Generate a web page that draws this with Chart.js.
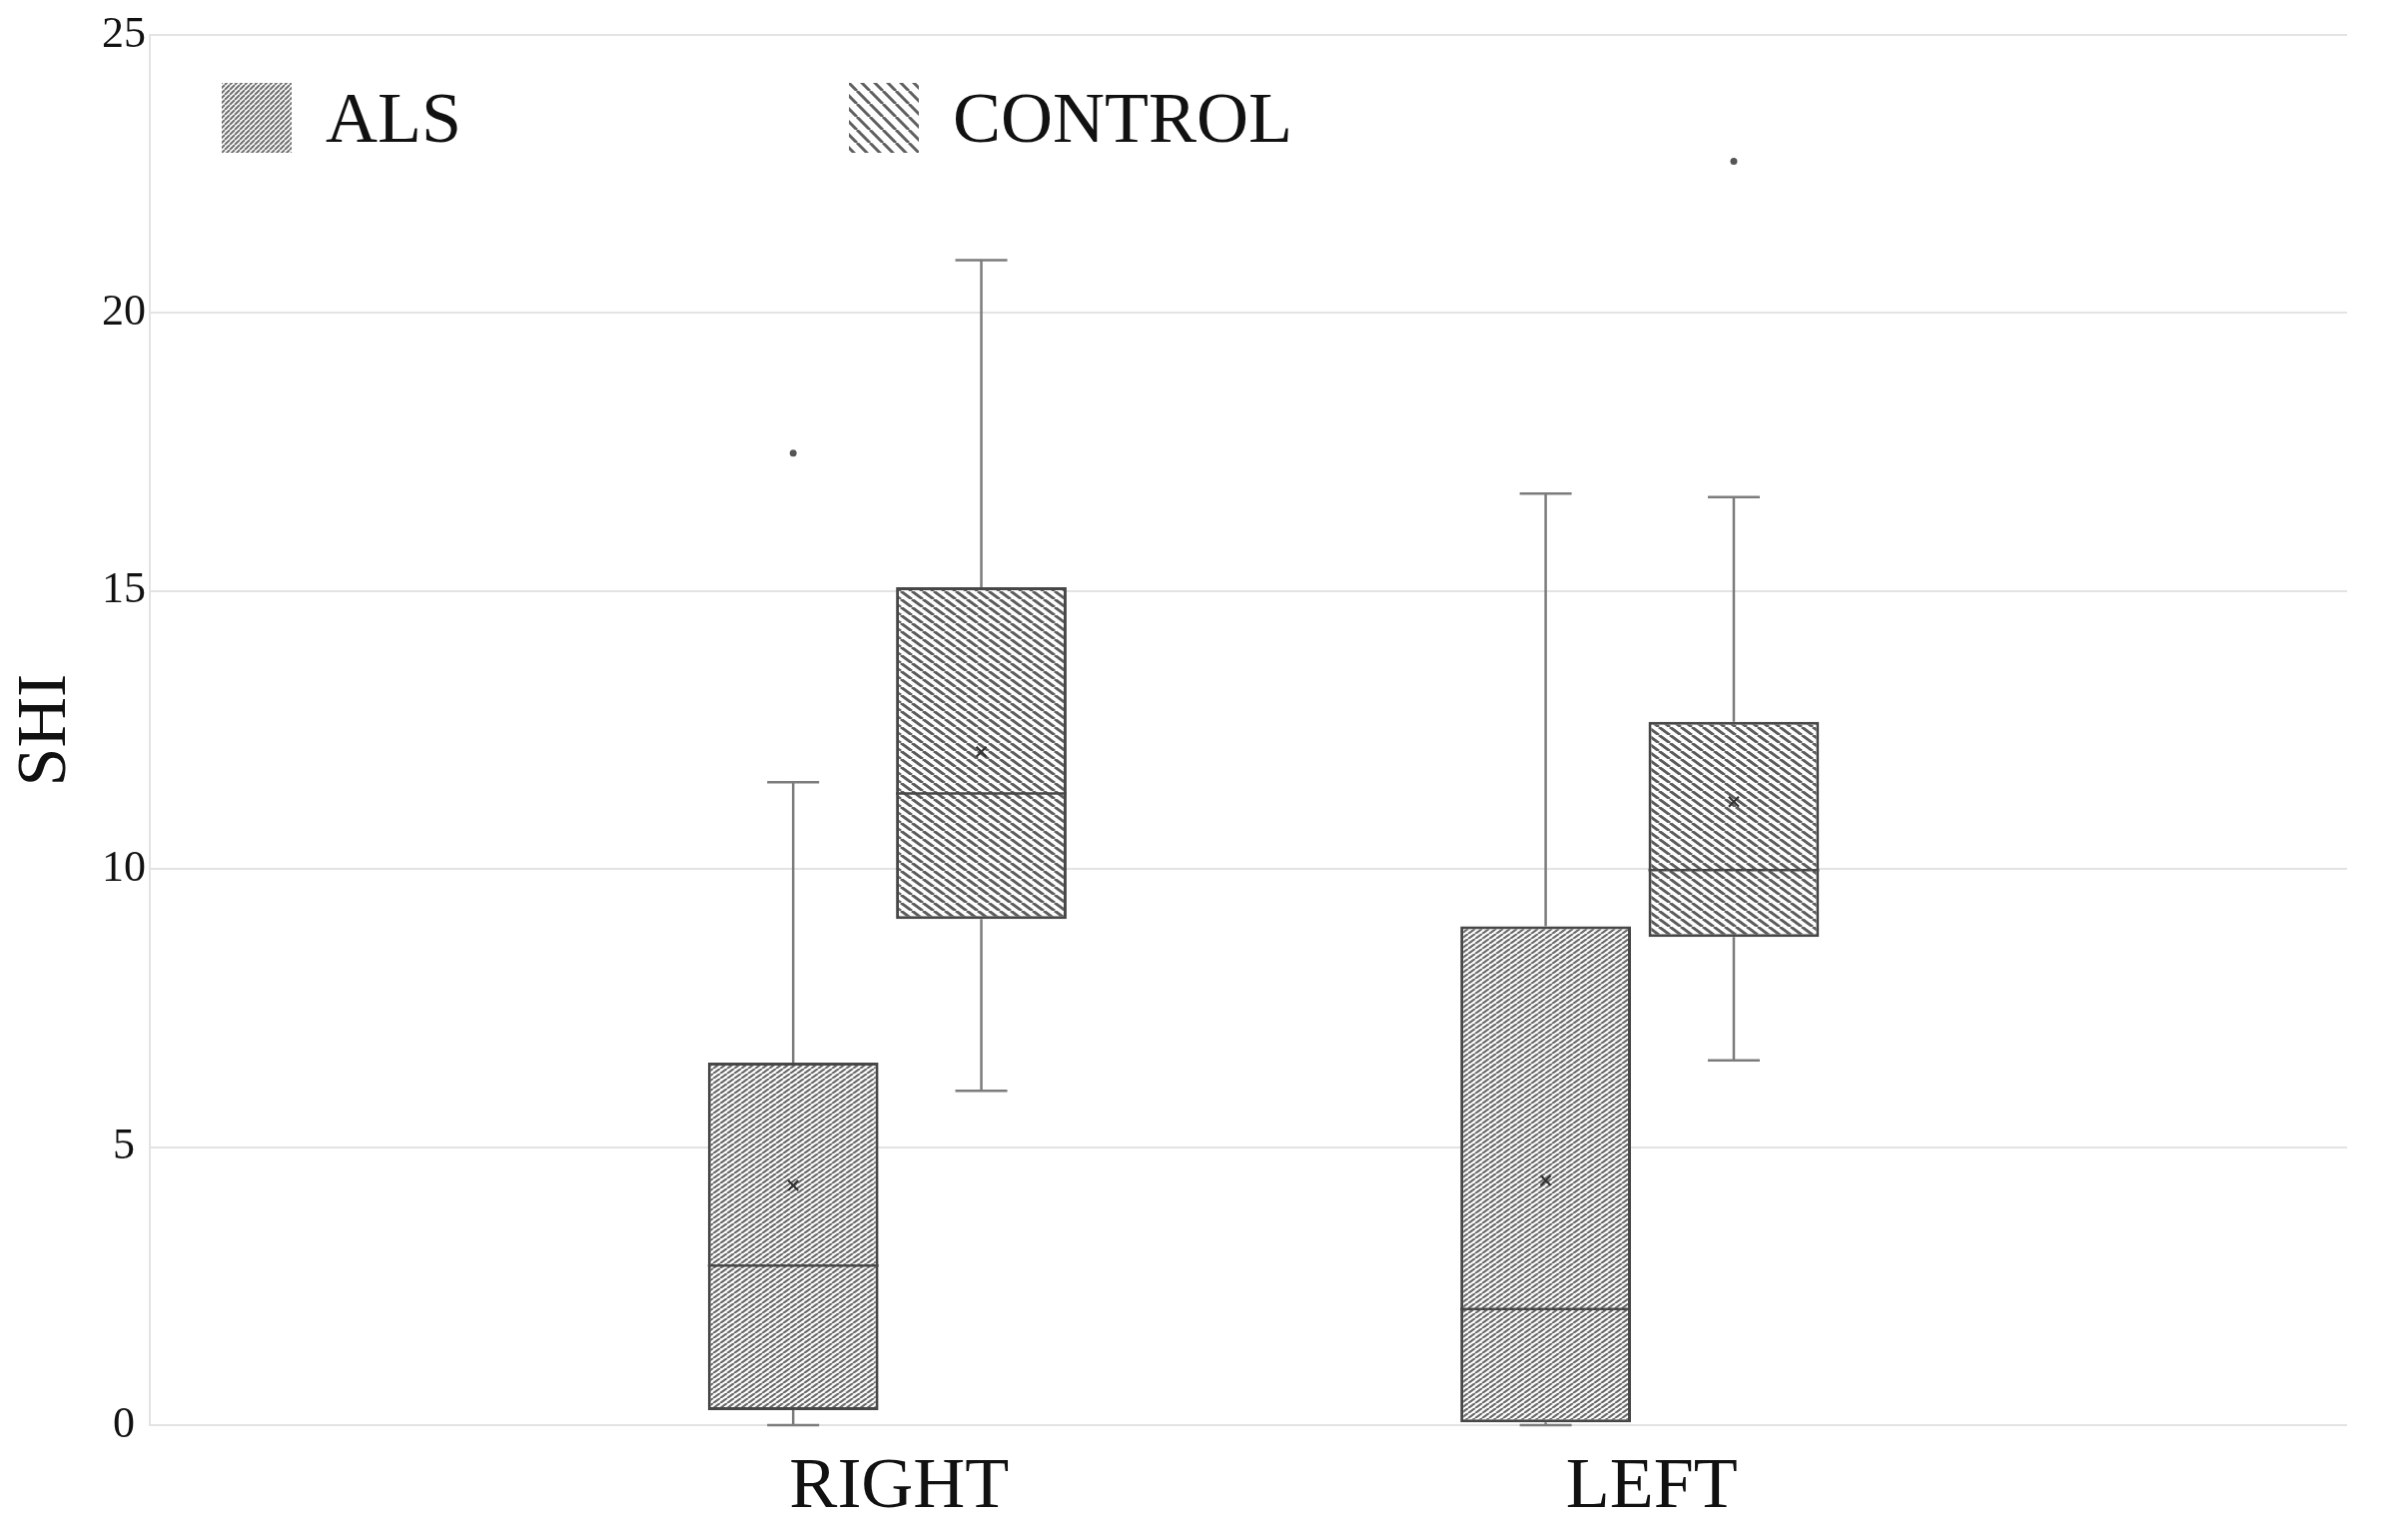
<!DOCTYPE html>
<html lang="en">
<head>
    <meta charset="UTF-8">
    <title>SHI box plot</title>
    <style>
        body {
            margin: 0;
            background-color: white;
        }
        #wrap {
            width: 2411px;
            height: 1527px;
        }
    </style>
</head>
<body>
    <div id="wrap">
        <canvas id="shiChart" width="2411" height="1527"></canvas>
    </div>
    <script src="https://cdn.jsdelivr.net/npm/chart.js"></script>
    <script>
        // sides on the x axis, groups as datasets
        const categories = ['RIGHT', 'LEFT'];
        const seriesNames = ['ALS', 'CONTROL'];
        const yTicks = [0, 5, 10, 15, 20, 25];

        // box plot summaries (RIGHT, LEFT)
        const alsMin = [0, 0];
        const alsQ1 = [0.27, 0.05];
        const alsMedian = [2.87, 2.09];
        const alsQ3 = [6.52, 8.97];
        const alsMax = [11.56, 16.75];
        const alsMean = [4.31, 4.40];
        const alsOutliers = [[17.48], []];

        const controlMin = [6.01, 6.56];
        const controlQ1 = [9.10, 8.78];
        const controlMedian = [11.36, 9.98];
        const controlQ3 = [15.07, 12.65];
        const controlMax = [20.95, 16.69];
        const controlMean = [12.11, 11.21];
        const controlOutliers = [[], [22.73]];

        const stats = [
            { min: alsMin, q1: alsQ1, median: alsMedian, q3: alsQ3, max: alsMax, mean: alsMean, outliers: alsOutliers },
            { min: controlMin, q1: controlQ1, median: controlMedian, q3: controlQ3, max: controlMax, mean: controlMean, outliers: controlOutliers }
        ];

        // hatch tile: dir 1 = "\" , dir -1 = "/"
        function hatch(w, h, dir, color, lw) {
            const c = document.createElement('canvas');
            c.width = w;
            c.height = h;
            const g = c.getContext('2d');
            g.fillStyle = 'white';
            g.fillRect(0, 0, w, h);
            g.strokeStyle = color;
            g.lineWidth = lw;
            g.beginPath();
            for (let k = -1; k <= 1; k++) {
                if (dir > 0) {
                    g.moveTo(k * w, 0);
                    g.lineTo((k + 1) * w, h);
                } else {
                    g.moveTo(k * w, h);
                    g.lineTo((k + 1) * w, 0);
                }
            }
            g.stroke();
            return g.createPattern(c, 'repeat');
        }

        const ctx = document.getElementById('shiChart').getContext('2d');
        const boxFills = [hatch(7, 5, -1, '#6a6a6a', 2.2), hatch(11, 8, 1, '#5c5c5c', 3)];
        const legendFills = [hatch(5, 5, -1, '#707070', 2), hatch(13, 13, 1, '#606060', 3)];

        const whiskerPlugin = {
            id: 'whiskers',
            afterDatasetsDraw(chart) {
                const g = chart.ctx;
                const y = chart.scales.y;
                g.save();
                stats.forEach((s, d) => {
                    const meta = chart.getDatasetMeta(d);
                    meta.data.forEach((bar, i) => {
                        const x = bar.x;
                        const half = bar.width / 2;
                        const cap = 26;
                        // whiskers
                        g.strokeStyle = '#7c7c7c';
                        g.lineWidth = 2.5;
                        g.beginPath();
                        g.moveTo(x, y.getPixelForValue(s.q3[i]));
                        g.lineTo(x, y.getPixelForValue(s.max[i]));
                        g.moveTo(x - cap, y.getPixelForValue(s.max[i]));
                        g.lineTo(x + cap, y.getPixelForValue(s.max[i]));
                        g.moveTo(x, y.getPixelForValue(s.q1[i]));
                        g.lineTo(x, y.getPixelForValue(s.min[i]));
                        g.moveTo(x - cap, y.getPixelForValue(s.min[i]));
                        g.lineTo(x + cap, y.getPixelForValue(s.min[i]));
                        g.stroke();
                        // median
                        g.strokeStyle = '#484848';
                        g.lineWidth = 2.5;
                        g.beginPath();
                        g.moveTo(x - half, y.getPixelForValue(s.median[i]));
                        g.lineTo(x + half, y.getPixelForValue(s.median[i]));
                        g.stroke();
                        // mean marker
                        const my = y.getPixelForValue(s.mean[i]);
                        g.strokeStyle = '#333';
                        g.lineWidth = 2.2;
                        g.beginPath();
                        g.moveTo(x - 5, my - 5);
                        g.lineTo(x + 5, my + 5);
                        g.moveTo(x - 5, my + 5);
                        g.lineTo(x + 5, my - 5);
                        g.stroke();
                        // outliers
                        g.fillStyle = '#555';
                        s.outliers[i].forEach(v => {
                            g.beginPath();
                            g.arc(x, y.getPixelForValue(v), 3.5, 0, Math.PI * 2);
                            g.fill();
                        });
                    });
                });
                g.restore();
            }
        };

        // legend sits inside the plot area, top left
        const legendPlugin = {
            id: 'innerLegend',
            afterDraw(chart) {
                const g = chart.ctx;
                const area = chart.chartArea;
                const starts = [72, 700];
                g.save();
                g.font = '72px "Liberation Serif"';
                g.textBaseline = 'middle';
                chart.data.datasets.forEach((ds, d) => {
                    const bx = area.left + starts[d];
                    const by = area.top + 48;
                    g.fillStyle = legendFills[d];
                    g.fillRect(bx, by, 70, 70);
                    g.fillStyle = '#111';
                    g.fillText(ds.label, bx + 104, by + 40);
                });
                g.restore();
            }
        };

        new Chart(ctx, {
            type: 'bar',
            data: {
                datasets: seriesNames.map((name, d) => ({
                    label: name,
                    data: categories.map((c, i) => ({ x: i + 1, y: [stats[d].q1[i], stats[d].q3[i]] })),
                    backgroundColor: boxFills[d],
                    borderColor: '#474747',
                    borderWidth: 3,
                    borderSkipped: false,
                    categoryPercentage: 0.5,
                    barPercentage: 0.907
                }))
            },
            options: {
                responsive: false,
                animation: false,
                layout: {
                    padding: { left: 0, right: 61, top: 35, bottom: 0 }
                },
                scales: {
                    x: {
                        type: 'linear',
                        offset: false,
                        min: 0.02,
                        max: 2.94,
                        grid: { display: false },
                        border: { display: false },
                        afterBuildTicks: scale => {
                            scale.ticks = categories.map((c, i) => ({ value: i + 1 }));
                        },
                        afterFit: scale => {
                            scale.height = 100;
                        },
                        ticks: {
                            autoSkip: false,
                            maxRotation: 0,
                            padding: 12,
                            labelOffset: 12,
                            color: '#111',
                            font: { family: 'Liberation Serif', size: 72 },
                            callback: value => categories[value - 1]
                        }
                    },
                    y: {
                        min: 0,
                        max: 25,
                        afterBuildTicks: scale => {
                            scale.ticks = yTicks.map(v => ({ value: v }));
                        },
                        afterFit: scale => {
                            scale.width = 150;
                        },
                        grid: {
                            color: '#e3e3e3',
                            lineWidth: 2,
                            drawTicks: false
                        },
                        border: { color: '#e3e3e3', width: 2 },
                        ticks: {
                            crossAlign: 'center',
                            padding: 4,
                            color: '#111',
                            font: { family: 'Liberation Serif', size: 44 }
                        },
                        title: {
                            display: true,
                            text: 'SHI',
                            color: '#111',
                            font: { family: 'Liberation Serif', size: 70 },
                            padding: { top: 5, bottom: 0 }
                        }
                    }
                },
                plugins: {
                    legend: { display: false },
                    tooltip: { enabled: false }
                }
            },
            plugins: [whiskerPlugin, legendPlugin]
        });
    </script>
</body>
</html>
